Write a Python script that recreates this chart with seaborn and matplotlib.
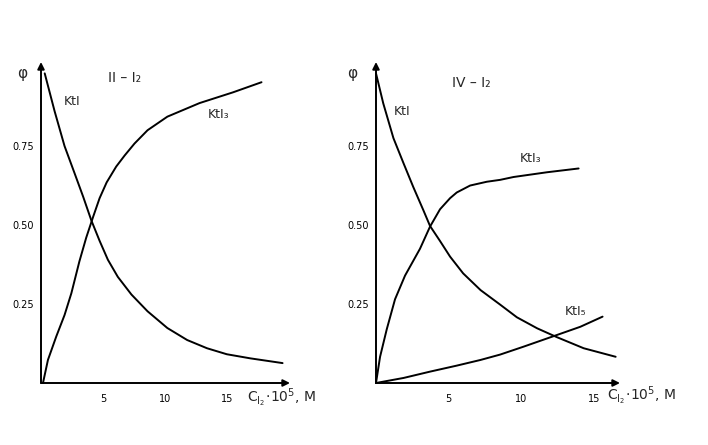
import numpy as np
import pandas as pd
import matplotlib
matplotlib.use("Agg")
import matplotlib.pyplot as plt
import seaborn as sns

# values (x = C_I2 * 10^5 M, y = phi)
left_kti_x = [0.3, 1.1, 1.9, 2.7, 3.4, 4.06, 4.73, 5.4, 6.2, 7.3, 8.6, 10.2,
              11.8, 13.4, 15.0, 16.9, 19.5]
left_kti_y = [0.98, 0.86, 0.75, 0.665, 0.59, 0.515, 0.45, 0.39, 0.336, 0.28,
              0.227, 0.174, 0.136, 0.11, 0.091, 0.078, 0.063]
left_kti3_x = [0.16, 0.56, 1.23, 1.9, 2.45, 3.1, 3.65, 4.2, 4.73, 5.3, 6.07,
               6.75, 7.55, 8.6, 10.2, 12.8, 15.5, 17.8]
left_kti3_y = [0.0, 0.073, 0.147, 0.215, 0.284, 0.385, 0.46, 0.525, 0.585, 0.635,
               0.685, 0.72, 0.758, 0.80, 0.843, 0.886, 0.92, 0.952]

right_kti_x = [0.0, 0.5, 1.2, 1.9, 2.57, 3.26, 3.72, 4.4, 5.1, 6.0, 7.2, 8.55,
               9.7, 11.1, 12.46, 14.3, 16.5]
right_kti_y = [0.98, 0.885, 0.775, 0.695, 0.62, 0.547, 0.497, 0.45, 0.40, 0.347,
               0.294, 0.248, 0.208, 0.173, 0.145, 0.11, 0.083]
right_kti3_x = [0.0, 0.28, 0.74, 1.31, 2.0, 3.03, 3.72, 4.41, 5.1, 5.56, 6.48,
                7.63, 8.55, 9.47, 11.77, 13.95]
right_kti3_y = [0.0, 0.083, 0.17, 0.265, 0.34, 0.425, 0.495, 0.55, 0.585, 0.603,
                0.625, 0.637, 0.643, 0.652, 0.667, 0.679]
right_kti5_x = [0.0, 1.9, 3.72, 5.56, 7.2, 8.55, 10.16, 12.46, 14.07, 15.6]
right_kti5_y = [0.0, 0.016, 0.036, 0.055, 0.073, 0.09, 0.115, 0.152, 0.178, 0.21]

xticks = [5, 10, 15]
yticks = [0.25, 0.50, 0.75]
ytick_labels = ["0.25", "0.50", "0.75"]

sns.set_style("white")
plt.rcParams['font.family'] = ['DejaVu Sans']

fig = plt.figure(figsize=(7.08, 4.45), dpi=100)
ax1 = fig.add_axes([41 / 708, 62 / 445, 249 / 708, 321 / 445])
ax2 = fig.add_axes([376 / 708, 62 / 445, 244 / 708, 321 / 445])


def draw_panel(ax, xmax, curves):
    for xs, ys in curves:
        d = pd.DataFrame({"x": xs, "y": ys})
        sns.lineplot(data=d, x="x", y="y", ax=ax, color="black", lw=1.4,
                     sort=False, clip_on=False)
    ax.set_xlim(0, xmax)
    ax.set_ylim(0, 1.016)
    for s in ax.spines.values():
        s.set_visible(False)
    ax.annotate("", xy=(xmax, 0), xytext=(0, 0), annotation_clip=False,
                arrowprops=dict(arrowstyle="-|>", color="black", lw=1.4,
                                mutation_scale=10, shrinkA=0, shrinkB=0))
    ax.annotate("", xy=(0, 1.016), xytext=(0, 0), annotation_clip=False,
                arrowprops=dict(arrowstyle="-|>", color="black", lw=1.4,
                                mutation_scale=10, shrinkA=0, shrinkB=0))
    ax.set_xticks(xticks)
    ax.set_xticklabels([str(t) for t in xticks])
    ax.set_yticks(yticks)
    ax.set_yticklabels(ytick_labels)
    ax.tick_params(axis="both", labelsize=7, length=3, width=1,
                   direction="out", colors="black", pad=2)
    ax.tick_params(axis="x", pad=5)
    ax.set_xlabel("")
    ax.set_ylabel("")
    ax.grid(False)


draw_panel(ax1, 20.1, [(left_kti_x, left_kti_y), (left_kti3_x, left_kti3_y)])
draw_panel(ax2, 16.8, [(right_kti_x, right_kti_y), (right_kti3_x, right_kti3_y),
                       (right_kti5_x, right_kti5_y)])

xlab = r"$\mathrm{C_{I_2}}\!\cdot\!10^5$, M"

ax1.text(-1.9, 0.98, "φ", fontsize=11, ha="left", va="center", clip_on=False)
ax1.text(5.4, 0.965, "II – I₂", fontsize=10, ha="left", va="center")
ax1.text(1.8, 0.89, "KtI", fontsize=9, ha="left", va="center")
ax1.text(13.5, 0.85, "KtI₃", fontsize=9, ha="left", va="center")
ax1.text(16.6, -0.047, xlab, fontsize=10, ha="left", va="center", clip_on=False)

ax2.text(-2.0, 0.98, "φ", fontsize=11, ha="left", va="center", clip_on=False)
ax2.text(5.2, 0.95, "IV – I₂", fontsize=10, ha="left", va="center")
ax2.text(1.2, 0.86, "KtI", fontsize=9, ha="left", va="center")
ax2.text(9.9, 0.71, "KtI₃", fontsize=9, ha="left", va="center")
ax2.text(13.0, 0.225, "KtI₅", fontsize=9, ha="left", va="center")
ax2.text(15.9, -0.041, xlab, fontsize=10, ha="left", va="center", clip_on=False)

fig.savefig("out.png", dpi=100)
